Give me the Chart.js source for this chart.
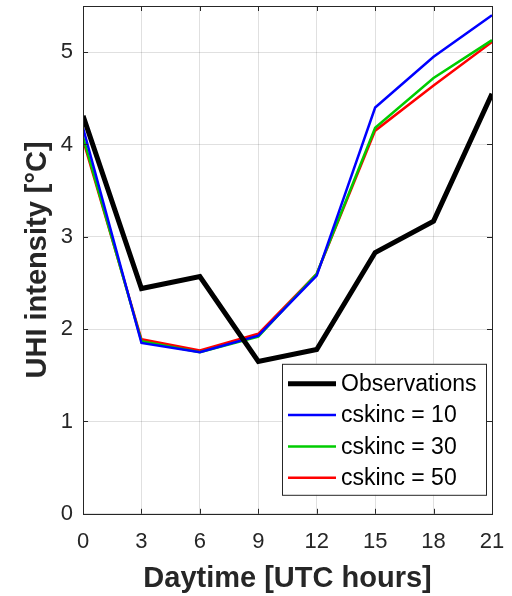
<!DOCTYPE html>
<html>
<head>
<meta charset="utf-8">
<script src="https://cdn.jsdelivr.net/npm/chart.js@4.4.1/dist/chart.umd.min.js"></script>
<style>
  html, body { margin: 0; padding: 0; background: #fff; }
  #wrap { width: 512px; height: 596px; }
</style>
</head>
<body>
<div id="wrap"><canvas id="chart" width="512" height="596"></canvas></div>
<script>
// hours of the day (UTC)
const hours = [0, 3, 6, 9, 12, 15, 18, 21];

// UHI intensity values
const observations = [4.31, 2.44, 2.57, 1.65, 1.78, 2.83, 3.17, 4.55];
const cskinc10 = [4.18, 1.85, 1.75, 1.93, 2.58, 4.40, 4.95, 5.40];
const cskinc30 = [4.08, 1.87, 1.75, 1.92, 2.60, 4.18, 4.72, 5.13];
const cskinc50 = [4.05, 1.89, 1.77, 1.95, 2.60, 4.15, 4.64, 5.11];

const xTicks = [0, 3, 6, 9, 12, 15, 18, 21];
const yTicks = [0, 1, 2, 3, 4, 5];

const toPoints = vals => hours.map((h, i) => ({ x: h, y: vals[i] }));

const textColor = '#262626';
const fontFamily = '"Liberation Sans", Arial, sans-serif';

// box around the plot area plus inward tick marks (MATLAB style)
const boxPlugin = {
    id: 'box',
    afterDraw(chart) {
        const { ctx, chartArea: a, scales } = chart;
        ctx.save();
        ctx.strokeStyle = textColor;
        ctx.lineWidth = 1;
        ctx.beginPath();
        xTicks.forEach(v => {
            const px = Math.round(scales.x.getPixelForValue(v)) + 0.5;
            ctx.moveTo(px, a.bottom); ctx.lineTo(px, a.bottom - 5);
            ctx.moveTo(px, a.top); ctx.lineTo(px, a.top + 5);
        });
        yTicks.forEach(v => {
            const py = Math.round(scales.y.getPixelForValue(v)) + 0.5;
            ctx.moveTo(a.left, py); ctx.lineTo(a.left + 5, py);
            ctx.moveTo(a.right, py); ctx.lineTo(a.right - 5, py);
        });
        ctx.stroke();
        ctx.strokeRect(Math.round(a.left) + 0.5, Math.round(a.top) + 0.5,
            Math.round(a.right - a.left), Math.round(a.bottom - a.top));
        ctx.restore();
    }
};

// legend drawn inside the axes, lower right
const innerLegend = {
    id: 'innerLegend',
    afterDraw(chart) {
        const { ctx, chartArea: a } = chart;
        const sets = chart.data.datasets;
        const w = 204, h = 131;
        const x0 = a.right - 6 - w, y0 = a.bottom - 19 - h;
        ctx.save();
        ctx.fillStyle = '#fff';
        ctx.fillRect(x0, y0, w, h);
        ctx.strokeStyle = '#262626';
        ctx.lineWidth = 1;
        ctx.strokeRect(x0 + 0.5, y0 + 0.5, w, h);
        ctx.font = '23px ' + fontFamily;
        ctx.textBaseline = 'middle';
        sets.forEach((ds, i) => {
            const cy = y0 + 20 + i * 31.3;
            ctx.strokeStyle = ds.borderColor;
            ctx.lineWidth = ds.borderWidth;
            ctx.beginPath();
            ctx.moveTo(x0 + 6, cy);
            ctx.lineTo(x0 + 54, cy);
            ctx.stroke();
            ctx.fillStyle = '#000';
            ctx.fillText(ds.label, x0 + 59, cy + 1);
        });
        ctx.restore();
    }
};

new Chart(document.getElementById('chart'), {
    type: 'line',
    data: {
        datasets: [
            { label: 'Observations', data: toPoints(observations), borderColor: '#000000', borderWidth: 5 },
            { label: 'cskinc = 10', data: toPoints(cskinc10), borderColor: '#0000ff', borderWidth: 2.5 },
            { label: 'cskinc = 30', data: toPoints(cskinc30), borderColor: '#00cc00', borderWidth: 2.5 },
            { label: 'cskinc = 50', data: toPoints(cskinc50), borderColor: '#ff0000', borderWidth: 2.5 }
        ]
    },
    options: {
        responsive: false,
        animation: false,
        devicePixelRatio: 1,
        layout: { padding: { left: 21, right: 20, top: 6, bottom: 0 } },
        elements: {
            point: { radius: 0 },
            line: { tension: 0, borderJoinStyle: 'miter', fill: false }
        },
        plugins: {
            legend: { display: false },
            tooltip: { enabled: false }
        },
        scales: {
            x: {
                type: 'linear',
                min: 0,
                max: 21,
                afterBuildTicks: scale => { scale.ticks = xTicks.map(v => ({ value: v })); },
                afterFit: scale => { scale.paddingLeft = 0; scale.paddingRight = 0; },
                grid: { color: 'rgba(0,0,0,0.12)', drawTicks: false },
                border: { display: false },
                ticks: { color: textColor, font: { size: 22, family: fontFamily }, padding: 15, maxRotation: 0 },
                title: {
                    display: true,
                    text: 'Daytime [UTC hours]',
                    color: textColor,
                    font: { size: 29, weight: 'bold', family: fontFamily },
                    padding: { top: -9, bottom: 0 }
                }
            },
            y: {
                min: 0,
                max: 5.5,
                afterBuildTicks: scale => { scale.ticks = yTicks.map(v => ({ value: v })); },
                afterFit: scale => { scale.paddingTop = 0; scale.paddingBottom = 0; },
                grid: { color: 'rgba(0,0,0,0.12)', drawTicks: false },
                border: { display: false },
                ticks: { color: textColor, font: { size: 22, family: fontFamily }, padding: 10 },
                title: {
                    display: true,
                    text: 'UHI intensity [°C]',
                    color: textColor,
                    font: { size: 29, weight: 'bold', family: fontFamily },
                    padding: { top: 0, bottom: -5 }
                }
            }
        }
    },
    plugins: [boxPlugin, innerLegend]
});
</script>
</body>
</html>
